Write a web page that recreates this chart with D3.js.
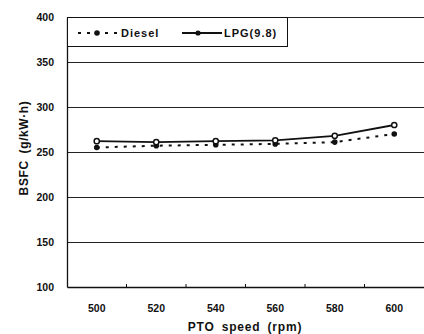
<!DOCTYPE html>
<html>
<head>
<meta charset="utf-8">
<script src="https://cdn.jsdelivr.net/npm/d3@7"></script>
<style>
  body { margin: 0; background: #fff; }
  text { font-family: "Liberation Sans", Arial, sans-serif; font-weight: bold; fill: #111; }
</style>
</head>
<body>
<div id="chart"></div>
<script>
// data
const speeds = ['500', '520', '540', '560', '580', '600'];
const diesel = [255, 257, 258, 259, 261, 270];
const lpg = [262, 261, 262, 263, 268, 280];
const yTicks = [100, 150, 200, 250, 300, 350, 400];

const width = 424, height = 334;
const margin = { top: 17, right: 0, bottom: 47, left: 67 };
const w = width - margin.left - margin.right;
const h = height - margin.top - margin.bottom;

const svg = d3.select('#chart').append('svg')
    .attr('width', width)
    .attr('height', height);

const g = svg.append('g')
    .attr('transform', 'translate(' + margin.left + ',' + margin.top + ')');

const x = d3.scaleBand().domain(speeds).range([0, w]);
const y = d3.scaleLinear().domain([100, 400]).range([h, 0]);

// gridlines
g.selectAll('.grid')
    .data(yTicks.filter(d => d > 100))
    .enter().append('line')
    .attr('class', 'grid')
    .attr('x1', 0).attr('x2', w)
    .attr('y1', d => Math.round(y(d)) + 0.5)
    .attr('y2', d => Math.round(y(d)) + 0.5)
    .attr('stroke', '#222').attr('stroke-width', 1);

// y axis
const yAxis = g.append('g')
    .call(d3.axisLeft(y).tickValues(yTicks).tickSize(0).tickPadding(13));
yAxis.select('.domain').attr('stroke', '#111').attr('stroke-width', 1.3);
yAxis.selectAll('text').style('font-size', '10.5px');

// x axis: ticks on category boundaries, pointing inward
const xAxis = g.append('g')
    .attr('transform', 'translate(0,' + h + ')')
    .call(d3.axisBottom(x).tickSize(0).tickPadding(18));
xAxis.select('.domain').attr('stroke', '#111').attr('stroke-width', 1.3);
xAxis.selectAll('text').style('font-size', '10.5px');
g.selectAll('.xtick')
    .data(speeds.slice(1))
    .enter().append('line')
    .attr('class', 'xtick')
    .attr('x1', d => x(d)).attr('x2', d => x(d))
    .attr('y1', h).attr('y2', h - 3)
    .attr('stroke', '#111');

const cx = d => x(d) + x.bandwidth() / 2;

// series
const line = d3.line()
    .x((d, i) => cx(speeds[i]))
    .y(d => y(d));

g.append('path')
    .datum(diesel)
    .attr('fill', 'none')
    .attr('stroke', '#111')
    .attr('stroke-width', 2)
    .attr('stroke-dasharray', '3,6')
    .attr('d', line);

g.append('path')
    .datum(lpg)
    .attr('fill', 'none')
    .attr('stroke', '#111')
    .attr('stroke-width', 1.8)
    .attr('d', line);

g.selectAll('.pd')
    .data(diesel)
    .enter().append('circle')
    .attr('cx', (d, i) => cx(speeds[i]))
    .attr('cy', d => y(d))
    .attr('r', 2.8)
    .attr('fill', '#111');

g.selectAll('.pl')
    .data(lpg)
    .enter().append('circle')
    .attr('cx', (d, i) => cx(speeds[i]))
    .attr('cy', d => y(d))
    .attr('r', 2.6)
    .attr('fill', '#fff')
    .attr('stroke', '#111')
    .attr('stroke-width', 1.5);

// legend
const lg = g.append('g');
lg.append('rect')
    .attr('x', 0.5).attr('y', 0.5)
    .attr('width', 220).attr('height', 29)
    .attr('fill', '#fff')
    .attr('stroke', '#111');
lg.append('line')
    .attr('x1', 11).attr('x2', 51).attr('y1', 16).attr('y2', 16)
    .attr('stroke', '#111').attr('stroke-width', 2).attr('stroke-dasharray', '3,6');
lg.append('circle').attr('cx', 30).attr('cy', 16).attr('r', 2.8).attr('fill', '#111');
lg.append('text')
    .attr('x', 54).attr('y', 20)
    .style('font-size', '11px').style('letter-spacing', '1px')
    .text('Diesel');
lg.append('line')
    .attr('x1', 115).attr('x2', 155).attr('y1', 16).attr('y2', 16)
    .attr('stroke', '#111').attr('stroke-width', 1.8);
lg.append('circle').attr('cx', 131).attr('cy', 16).attr('r', 2.6)
    .attr('fill', '#111');
lg.append('text')
    .attr('x', 157).attr('y', 20)
    .style('font-size', '11px').style('letter-spacing', '1px')
    .text('LPG(9.8)');

// axis titles
svg.append('text')
    .attr('x', 245).attr('y', 331)
    .attr('text-anchor', 'middle')
    .style('font-size', '12px').style('letter-spacing', '0.8px').style('word-spacing', '3px')
    .text('PTO speed (rpm)');

svg.append('text')
    .attr('transform', 'translate(28,148) rotate(-90)')
    .attr('text-anchor', 'middle')
    .style('font-size', '12px').style('letter-spacing', '0.6px').style('word-spacing', '3px')
    .text('BSFC (g/kW·h)');
</script>
</body>
</html>
